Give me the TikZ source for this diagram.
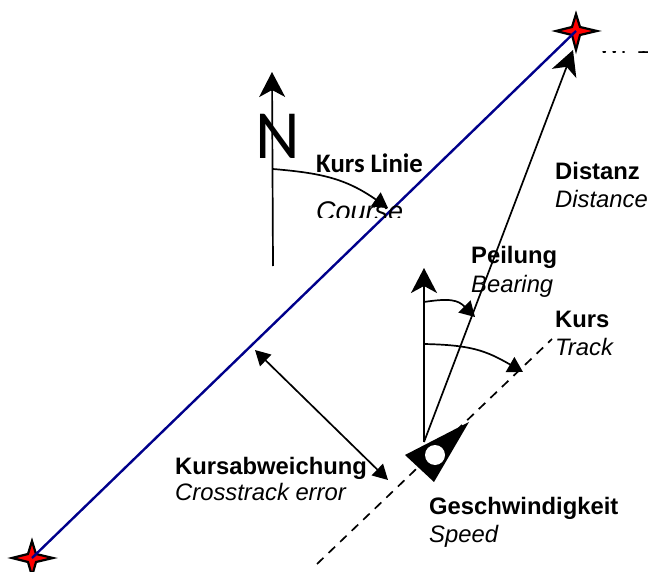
\documentclass[tikz,border=0pt]{standalone}
\usepackage{fontspec}
\setmainfont{Liberation Sans}
\newfontfamily\carl{Carlito}
\usetikzlibrary{arrows.meta}
\tikzset{
  x=1pt,y=-1pt,
  arr/.style={draw=black,line width=1.7pt,-{Stealth[length=25pt,width=26pt,inset=7pt]}},
  arc/.style={draw=black,line width=1.7pt,-{Triangle[length=15pt,width=17pt]}},
  star/.style={draw=black,line width=2.2pt,fill=red,line join=miter,miter limit=10},
  lbl/.style={anchor=base west,inner sep=0pt,font=\fontsize{23.8}{26}\selectfont},
  lblb/.style={lbl,font=\fontsize{23.8}{26}\selectfont\bfseries},
  lbli/.style={lbl,font=\fontsize{23.8}{26}\selectfont\itshape},
}
\begin{document}
\begin{tikzpicture}
\useasboundingbox (0,0) rectangle (648,572);
\coordinate (wp1) at (576,31);
\coordinate (wp0) at (32,558);
\coordinate (pos) at (424,442);
% stars
\clip (0,0) rectangle (648,572);
\draw[star] (576,14) -- (580,27) -- (597,31) -- (580,35) -- (576,50) -- (572,35) -- (556,31) -- (572,27) -- cycle;
\draw[star] (32,541) -- (36,554) -- (53,558) -- (36,562) -- (32,576) -- (28,562) -- (12,558) -- (28,554) -- cycle;
\draw[draw={rgb,255:red,0;green,0;blue,139},line width=2.4pt] (wp0) -- (wp1);
% north
\coordinate (nb) at (273,266);
\coordinate (nt) at (272,72);
\draw[arr] (nb) -- (nt);
\node[inner sep=0pt,anchor=base,font=\carl\fontsize{69}{69}\selectfont] (n) at (278,158.5) {N};
\coordinate (c0) at (273,169);
\coordinate (c1) at (388,208);
\draw[arc] (c0) .. controls (320,173) and (345,178) .. (c1);
% bearing
\coordinate (pt) at (424,268);
\draw[arr] (pos) -- (pt);
\draw[arr] (pos) -- (573,50);
\coordinate (b0) at (424,302);
\coordinate (b1) at (475,317);
\draw[arc] (b0) .. controls (450,298) and (458,300) .. (b1);
\coordinate (t0) at (424,344);
\coordinate (t1) at (523,372);
\draw[arc] (t0) .. controls (470,345) and (485,350) .. (t1);
% track
\coordinate (tr0) at (317,564);
\coordinate (tr1) at (552,339);
\draw[draw=black,line width=1.7pt,dash pattern=on 9pt off 7pt] (tr0) -- (tr1);
% aircraft
\path[fill=black] (469,422) -- (405,455) -- (434,482) -- cycle;
\node[circle,fill=white,inner sep=0pt,minimum size=20pt] (ac) at (435,455) {};
% crosstrack
\coordinate (x0) at (255,350);
\coordinate (x1) at (388,480);
\draw[draw=black,line width=1.7pt,{Triangle[length=15pt,width=16pt]}-{Triangle[length=15pt,width=16pt]}] (x0) -- (x1);
% labels
\node[lblb,font=\carl\fontsize{26.7}{28}\selectfont\bfseries] (kl) at (316,172.5) {Kurs Linie};
\begin{scope}
\clip (300,190) rectangle (420,218);
\node[lbl,font=\fontsize{27}{29}\selectfont\itshape] (co) at (316,221) {Course};
\end{scope}
\begin{scope}
\clip (590,51.5) rectangle (648,70);
\node[lbl] (wp) at (598,53.5) {WP1};
\end{scope}
\node[lblb] (d1) at (555,180) {Distanz};
\node[lbli] (d2) at (555,208) {Distance};
\node[lblb] (p1) at (471,264) {Peilung};
\node[lbli] (p2) at (471,292) {Bearing};
\node[lblb] (k1) at (555,327) {Kurs};
\node[lbli] (k2) at (555,355) {Track};
\node[lblb] (a1) at (175,474) {Kursabweichung};
\node[lbli] (a2) at (175,500) {Crosstrack error};
\node[lblb] (g1) at (429,514) {Geschwindigkeit};
\node[lbli] (g2) at (429,542) {Speed};
\end{tikzpicture}
\end{document}
